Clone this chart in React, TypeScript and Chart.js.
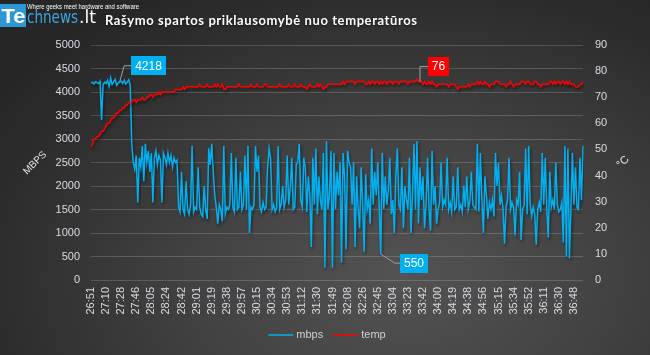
import { useEffect, useRef } from "react";
import { Chart, registerables } from "chart.js";
Chart.register(...registerables);

const tickLabels = [
  "26:51", "27:10", "27:28", "27:46", "28:05", "28:24", "28:42", "29:01", "29:19", "29:38", "29:57",
  "30:15", "30:34", "30:53", "31:12", "31:30", "31:49", "32:08", "32:26", "32:45", "33:04", "33:23",
  "33:42", "34:00", "34:19", "34:38", "34:56", "35:15", "35:34", "35:52", "36:11", "36:30", "36:48",
];
const POINTS_PER_TICK = 10;

const mbps = [
  4190, 4210, 4170, 4220, 4200, 4180, 4230, 3400, 4150, 4210,
  4180, 4250, 4120, 4300, 4160, 4220, 4270, 4140, 4190, 4218,
  4230, 4180, 4250, 4170, 4210, 4260, 4150, 2900, 2500, 2350,
  2650, 1650, 2600, 2400, 2850, 2100, 2900, 2500, 2750, 2300,
  2700, 1650, 2600, 2750, 2450, 2650, 2550, 1650, 2700, 2600,
  2450, 2700, 2500, 2650, 2400, 2600, 2500, 2550, 1550, 1450,
  2300, 1500, 1400, 2100, 1500, 1400, 1600, 2850, 1450, 1550,
  1500, 2400, 1550, 1400, 1350, 2000, 1500, 1300, 2800, 2450,
  2900, 2300, 1800, 1550, 1200, 1600, 1500, 1250, 2850, 1400,
  1550, 1500, 1600, 2700, 1550, 1450, 2600, 1500, 1550, 2300,
  1500, 1600, 2650, 1500, 2850, 1000, 1550, 1500, 1600, 2850,
  2300, 2650, 1550, 1450, 1650, 1500, 1550, 2400, 2800, 2600,
  1500, 1600, 1450, 1550, 2850, 1500, 1600, 2000, 1550, 1700,
  2650, 1600, 1950, 2600, 1500, 1550, 2450, 2500, 2900, 1700,
  1550, 2600, 2400, 1450, 2200, 1800, 700, 2600, 1600, 2800,
  1400, 2200, 1700, 1500, 2700, 260, 2950, 1500, 1800, 2750,
  260, 2700, 1500, 2300, 1800, 2500, 370, 2700, 2200, 650,
  2750, 2500, 2400, 1600, 2500, 700, 2200, 1500, 1100, 2400,
  1600, 600, 2250, 1500, 1700, 1200, 2800, 1600, 2300, 1800,
  2500, 1500, 550, 2700, 1500, 2200, 1600, 1900, 2600, 1400,
  1700, 1000, 2200, 2800, 1600, 1500, 2400, 1100, 2000, 1700,
  1500, 2600, 1000, 1800, 2900, 1500, 2950, 1200, 2400, 1700,
  2200, 1100, 1600, 2600, 1500, 1050, 2750, 1600, 2000, 1200,
  1500, 1650, 2500, 1550, 1700, 1600, 2600, 1500, 1650, 1450,
  2200, 1500, 1550, 2400, 1500, 1600, 1450, 2000, 1550, 2200,
  1500, 1650, 2300, 1600, 1550, 1500, 2900, 1450, 2700, 1700,
  1000, 2200, 1800, 1300, 1650, 1500, 1700, 1350, 2700, 2000,
  2500, 1600, 1800, 1500, 770, 1550, 1700, 2600, 1500, 1650,
  1550, 950, 1700, 1600, 2300, 850, 1500, 1600, 2800, 1400,
  2850, 1600, 1350, 1550, 1400, 750, 1500, 1650, 1450, 2700,
  1600, 2600, 1500, 900, 2300, 1550, 1700, 1500, 2500, 1600,
  1450, 1500, 1650, 800, 2850, 500, 2800, 460, 1500, 2700,
  1600, 2400, 1550, 1500, 2600, 1700, 2850,
];

const temp = [
  51, 52, 54, 54, 55, 55, 56, 57, 57, 58,
  59, 60, 60, 61, 62, 62, 63, 64, 64, 65,
  65, 66, 66, 67, 67, 68, 68, 68, 69, 69,
  68, 69, 69, 69, 70, 69, 69, 70, 70, 71,
  71, 70, 71, 71, 71, 72, 71, 72, 72, 72,
  72, 72, 72, 72, 72, 72, 73, 73, 73, 73,
  73, 74, 73, 74, 74, 74, 74, 74, 74, 74,
  74, 74, 75, 74, 74, 74, 74, 75, 74, 74,
  74, 74, 75, 74, 75, 74, 74, 75, 73, 73,
  74, 74, 74, 74, 74, 74, 74, 74, 75, 74,
  74, 74, 74, 74, 74, 74, 75, 74, 74, 74,
  75, 74, 74, 74, 74, 75, 75, 74, 74, 74,
  74, 74, 74, 74, 74, 75, 74, 74, 74, 74,
  74, 75, 74, 74, 74, 75, 74, 74, 74, 75,
  74, 74, 74, 73, 74, 75, 74, 74, 74, 74,
  75, 74, 75, 74, 73, 74, 74, 75, 75, 75,
  75, 75, 75, 75, 75, 75, 75, 76, 75, 76,
  76, 76, 76, 76, 76, 75, 76, 76, 76, 76,
  76, 76, 75, 75, 76, 75, 76, 76, 75, 76,
  76, 75, 76, 75, 76, 76, 75, 76, 76, 76,
  75, 76, 76, 76, 75, 76, 76, 76, 76, 76,
  75, 76, 76, 76, 76, 76, 77, 76, 76, 76,
  75, 76, 75, 75, 76, 75, 76, 75, 75, 74,
  75, 75, 75, 75, 75, 75, 75, 74, 75, 75,
  75, 75, 74, 73, 74, 74, 74, 74, 74, 74,
  75, 74, 75, 75, 75, 75, 76, 75, 76, 75,
  75, 76, 75, 75, 74, 75, 75, 75, 76, 76,
  76, 75, 75, 75, 75, 74, 75, 75, 76, 75,
  74, 75, 75, 75, 75, 76, 76, 76, 75, 76,
  76, 75, 75, 75, 76, 76, 75, 75, 74, 75,
  75, 75, 75, 75, 76, 76, 75, 76, 75, 76,
  76, 75, 76, 76, 75, 76, 75, 76, 75, 75,
  75, 74, 74, 74, 75, 75, 76,
];

const seriesNames = ["mbps", "temp"];
const seriesColors = ["#00b0f0", "#ff0000"];
const titleText = "Rašymo spartos priklausomybė nuo temperatūros";
const leftAxisTitle = "MBPS";
const rightAxisTitle = "°C";

// callouts: which dataset / point gets a data label
const callouts = [
  { dataset: 0, index: 19, kind: "upDiag" },
  { dataset: 1, index: 218, kind: "upVert" },
  { dataset: 0, index: 192, kind: "downDiag" },
];

const categories: string[] = mbps.map((_, i) =>
  i % POINTS_PER_TICK === 0 ? tickLabels[i / POINTS_PER_TICK] ?? "" : ""
);

const FONT = "'Liberation Sans', Arial, sans-serif";
const TICK_COLOR = "#d8dde4";

function fitText(ctx: CanvasRenderingContext2D, text: string, x: number, y: number, width: number) {
  ctx.save();
  const w = ctx.measureText(text).width;
  ctx.translate(x, y);
  ctx.scale(width / w, 1);
  ctx.textAlign = "left";
  ctx.fillText(text, 0, 0);
  ctx.restore();
}

function spacedText(ctx: CanvasRenderingContext2D, text: string, x: number, y: number, width: number) {
  const w = ctx.measureText(text).width;
  if (w < width && "letterSpacing" in ctx) {
    ctx.save();
    (ctx as any).letterSpacing = `${(width - w) / (text.length - 1)}px`;
    ctx.textAlign = "left";
    ctx.fillText(text, x, y);
    ctx.restore();
  } else {
    fitText(ctx, text, x, y, width);
  }
}

const overlay = {
  id: "overlay",
  beforeDatasetDraw(chart: any) {
    const ctx = chart.ctx;
    ctx.save();
    ctx.shadowColor = "rgba(0,0,0,0.55)";
    ctx.shadowBlur = 3;
    ctx.shadowOffsetX = 1;
    ctx.shadowOffsetY = 2;
  },
  afterDatasetDraw(chart: any) {
    chart.ctx.restore();
  },
  afterDraw(chart: any) {
    const ctx: CanvasRenderingContext2D = chart.ctx;
    ctx.save();
    ctx.textBaseline = "alphabetic";

    // logo
    ctx.fillStyle = "#2b97d4";
    ctx.fillRect(0, 4, 26, 23);
    ctx.fillStyle = "#ffffff";
    ctx.font = `bold 21px ${FONT}`;
    fitText(ctx, "Te", 1.5, 23, 24);
    ctx.fillStyle = "#3aa6e2";
    ctx.font = `18px 'DejaVu Sans', ${FONT}`;
    spacedText(ctx, "chnews", 27, 23, 51);
    ctx.fillStyle = "#ffffff";
    spacedText(ctx, ".lt", 79, 23, 17);
    ctx.font = `8px ${FONT}`;
    fitText(ctx, "Where geeks meet hardware and software", 27, 9, 112);

    // title
    ctx.fillStyle = "#ffffff";
    ctx.font = `bold 13px Lato, 'Open Sans', ${FONT}`;
    ctx.shadowColor = "rgba(0,0,0,0.6)";
    ctx.shadowBlur = 2;
    ctx.shadowOffsetY = 1;
    spacedText(ctx, titleText, 105, 25, 312);
    ctx.shadowColor = "transparent";

    // axis titles
    ctx.fillStyle = "#e0e0e0";
    ctx.font = `10px ${FONT}`;
    ctx.textAlign = "center";
    ctx.textBaseline = "middle";
    ctx.save();
    ctx.translate(35, 163);
    ctx.rotate(-Math.PI / 4);
    ctx.fillText(leftAxisTitle, 0, 0);
    ctx.restore();
    ctx.save();
    ctx.translate(623, 162);
    ctx.rotate(-Math.PI / 4);
    ctx.font = `11px ${FONT}`;
    ctx.fillText(rightAxisTitle, 0, 0);
    ctx.restore();

    // legend
    ctx.font = `11px ${FONT}`;
    ctx.textAlign = "left";
    ctx.textBaseline = "middle";
    const ly = 335;
    const items = chart.data.datasets.map((d: any) => ({ label: d.label, color: d.borderColor }));
    const lineW = 25, gap1 = 3, gap2 = 10;
    let total = 0;
    items.forEach((it: any, k: number) => {
      total += lineW + gap1 + ctx.measureText(it.label).width + (k < items.length - 1 ? gap2 : 0);
    });
    let lx = 327 - total / 2;
    items.forEach((it: any) => {
      ctx.strokeStyle = it.color;
      ctx.lineWidth = 1.5;
      ctx.beginPath();
      ctx.moveTo(lx, ly);
      ctx.lineTo(lx + lineW, ly);
      ctx.stroke();
      lx += lineW + gap1;
      ctx.fillStyle = "#d0d0d0";
      ctx.fillText(it.label, lx, ly);
      lx += ctx.measureText(it.label).width + gap2;
    });

    // callouts
    ctx.font = `12px ${FONT}`;
    callouts.forEach((c) => {
      const ds = chart.data.datasets[c.dataset];
      const meta = chart.getDatasetMeta(c.dataset);
      const yScale = chart.scales[meta.yAxisID];
      const value = ds.data[c.index];
      const px = chart.scales.x.getPixelForValue(c.index);
      const py = yScale.getPixelForValue(value);
      const text = String(value);
      const tw = ctx.measureText(text).width;
      const bw = tw + 8;
      const bh = 19;
      let elbowX: number, boxCy: number, boxL: number;
      ctx.strokeStyle = "#a0a0a0";
      ctx.lineWidth = 1;
      ctx.beginPath();
      ctx.moveTo(px, py);
      if (c.kind === "upDiag") {
        elbowX = px + 4.5; boxCy = py - 16; boxL = px + 11.5;
        ctx.lineTo(elbowX, boxCy);
      } else if (c.kind === "upVert") {
        elbowX = px; boxCy = py - 15; boxL = px + 8;
        ctx.lineTo(elbowX, boxCy);
      } else {
        elbowX = px + 14; boxCy = py + 9; boxL = px + 19.5;
        ctx.lineTo(elbowX, boxCy);
      }
      ctx.lineTo(boxL, boxCy);
      ctx.stroke();
      ctx.fillStyle = ds.borderColor;
      ctx.fillRect(Math.round(boxL), Math.round(boxCy - bh / 2), Math.round(bw), bh);
      ctx.fillStyle = "#ffffff";
      ctx.textAlign = "center";
      ctx.textBaseline = "middle";
      ctx.fillText(text, Math.round(boxL) + Math.round(bw) / 2, boxCy + 0.5);
    });

    ctx.restore();
  },
};

const plainNumber = (v: any) => String(v);

export default function App() {
  const ref = useRef<HTMLCanvasElement | null>(null);
  useEffect(() => {
    if (!ref.current) return;
    Chart.defaults.font.family = FONT;
    const chart = new Chart(ref.current, {
      type: "line",
      data: {
        labels: categories,
        datasets: [
          {
            label: seriesNames[0],
            data: mbps,
            yAxisID: "y",
            borderColor: seriesColors[0],
            backgroundColor: seriesColors[0],
            borderWidth: 1.5,
            pointRadius: 0,
            tension: 0,
            order: 2,
          },
          {
            label: seriesNames[1],
            data: temp,
            yAxisID: "y2",
            borderColor: seriesColors[1],
            backgroundColor: seriesColors[1],
            borderWidth: 1.5,
            pointRadius: 0,
            tension: 0,
            order: 1,
          },
        ],
      },
      options: {
        animation: false,
        responsive: false,
        devicePixelRatio: 1,
        layout: { padding: { top: 45, left: 0, right: 0, bottom: 0 } },
        plugins: {
          legend: { display: false },
          tooltip: { enabled: false },
          title: { display: false },
        },
        scales: {
          x: {
            type: "category",
            offset: false,
            grid: { display: false, drawTicks: false },
            border: { display: false },
            ticks: {
              autoSkip: false,
              maxRotation: 90,
              minRotation: 90,
              color: TICK_COLOR,
              font: { size: 11, family: FONT },
              padding: 7,
            },
            afterFit(s: any) {
              s.height = 75;
            },
          },
          y: {
            position: "left",
            min: 0,
            max: 5000,
            ticks: {
              stepSize: 500,
              color: TICK_COLOR,
              font: { size: 11, family: FONT },
              padding: 11,
              callback: plainNumber,
            },
            grid: { color: "rgba(255,255,255,0.17)", drawTicks: false, lineWidth: 1 },
            border: { display: false },
            afterFit(s: any) {
              s.width = 91;
            },
          },
          y2: {
            position: "right",
            min: 0,
            max: 90,
            ticks: {
              stepSize: 10,
              color: TICK_COLOR,
              font: { size: 11, family: FONT },
              padding: 12,
              callback: plainNumber,
            },
            grid: { display: false, drawTicks: false },
            border: { display: false },
            afterFit(s: any) {
              s.width = 67;
            },
          },
        },
      } as any,
      plugins: [overlay],
    });
    return () => chart.destroy();
  }, []);

  return (
    <div
      style={{
        position: "fixed",
        left: 0,
        top: 0,
        width: 650,
        height: 355,
        background:
          "radial-gradient(ellipse 75% 95% at 62% 78%, #535353 0%, #414141 45%, #2c2c2c 85%, #262626 100%)",
      }}
    >
      <canvas ref={ref} width={650} height={355} style={{ width: 650, height: 355, display: "block" }} />
    </div>
  );
}
